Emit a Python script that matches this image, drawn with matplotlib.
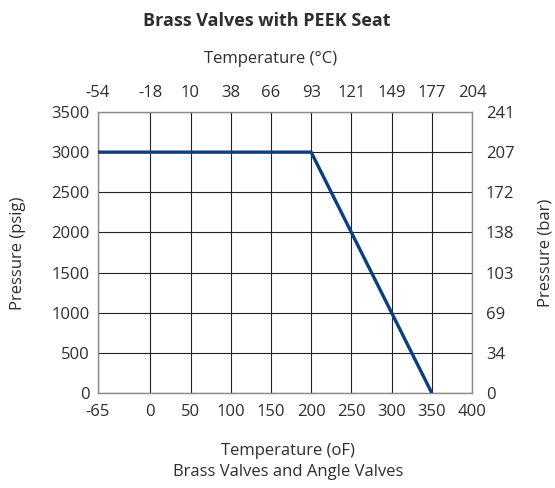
import matplotlib.pyplot as plt

plt.rcParams['font.family'] = ['Open Sans', 'DejaVu Sans']
plt.rcParams['axes.unicode_minus'] = False

# Pressure-temperature rating, brass valves with PEEK seat
temp_f = [-65, 200, 350]
pressure_psig = [3000, 3000, 0]

f_ticks = [-65, 0, 50, 100, 150, 200, 250, 300, 350, 400]
c_labels = ['-54', '-18', '10', '38', '66', '93', '121', '149', '177', '204']
psig_ticks = [0, 500, 1000, 1500, 2000, 2500, 3000, 3500]
bar_labels = ['0', '34', '69', '103', '138', '172', '207', '241']

txt = '#2e2e2e'
fs = 12

fig = plt.figure(figsize=(5.55, 4.88), dpi=100)
ax = fig.add_axes([0.1766, 0.1947, 0.6739, 0.5758])

ax.plot(temp_f, pressure_psig, color='#0c3f7f', linewidth=2.4, zorder=3,
        solid_capstyle='butt')
ax.set_xlim(-65, 400)
ax.set_ylim(0, 3500)
ax.set_xticks(f_ticks)
ax.set_xticklabels([str(v) for v in f_ticks])
ax.set_yticks(psig_ticks)
ax.grid(True, color='#222222', linewidth=0.8)
ax.tick_params(axis='x', length=0, labelsize=fs, labelcolor=txt, pad=8)
ax.tick_params(axis='y', length=0, labelsize=fs, labelcolor=txt, pad=6)
for s in ax.spines.values():
    s.set_color('#8a8a8a')
    s.set_linewidth(1.0)

# Celsius scale on top
top = ax.twiny()
top.set_xlim(ax.get_xlim())
top.set_xticks(f_ticks)
top.set_xticklabels(c_labels)
top.tick_params(length=0, labelsize=fs, labelcolor=txt, pad=8)

# bar scale on the right
right = ax.twinx()
right.set_ylim(ax.get_ylim())
right.set_yticks(psig_ticks)
right.set_yticklabels(bar_labels)
right.tick_params(length=0, labelsize=fs, labelcolor=txt, pad=10)

for a in (top, right):
    for s in a.spines.values():
        s.set_visible(False)

fig.text(0.481, 0.957, 'Brass Valves with PEEK Seat', ha='center',
         va='center', fontsize=13, fontweight='bold', color=txt)
fig.text(0.487, 0.879, 'Temperature (\u00b0C)', ha='center', va='center',
         fontsize=fs, color=txt)
fig.text(0.519, 0.076, 'Temperature (oF)', ha='center', va='center',
         fontsize=fs, color=txt)
fig.text(0.519, 0.033, 'Brass Valves and Angle Valves', ha='center',
         va='center', fontsize=fs, color=txt)
fig.text(0.032, 0.481, 'Pressure (psig)', ha='center', va='center',
         rotation=90, fontsize=fs, color=txt)
fig.text(0.982, 0.481, 'Pressure (bar)', ha='center', va='center',
         rotation=90, fontsize=fs, color=txt)

fig.savefig('out.png', dpi=100)
